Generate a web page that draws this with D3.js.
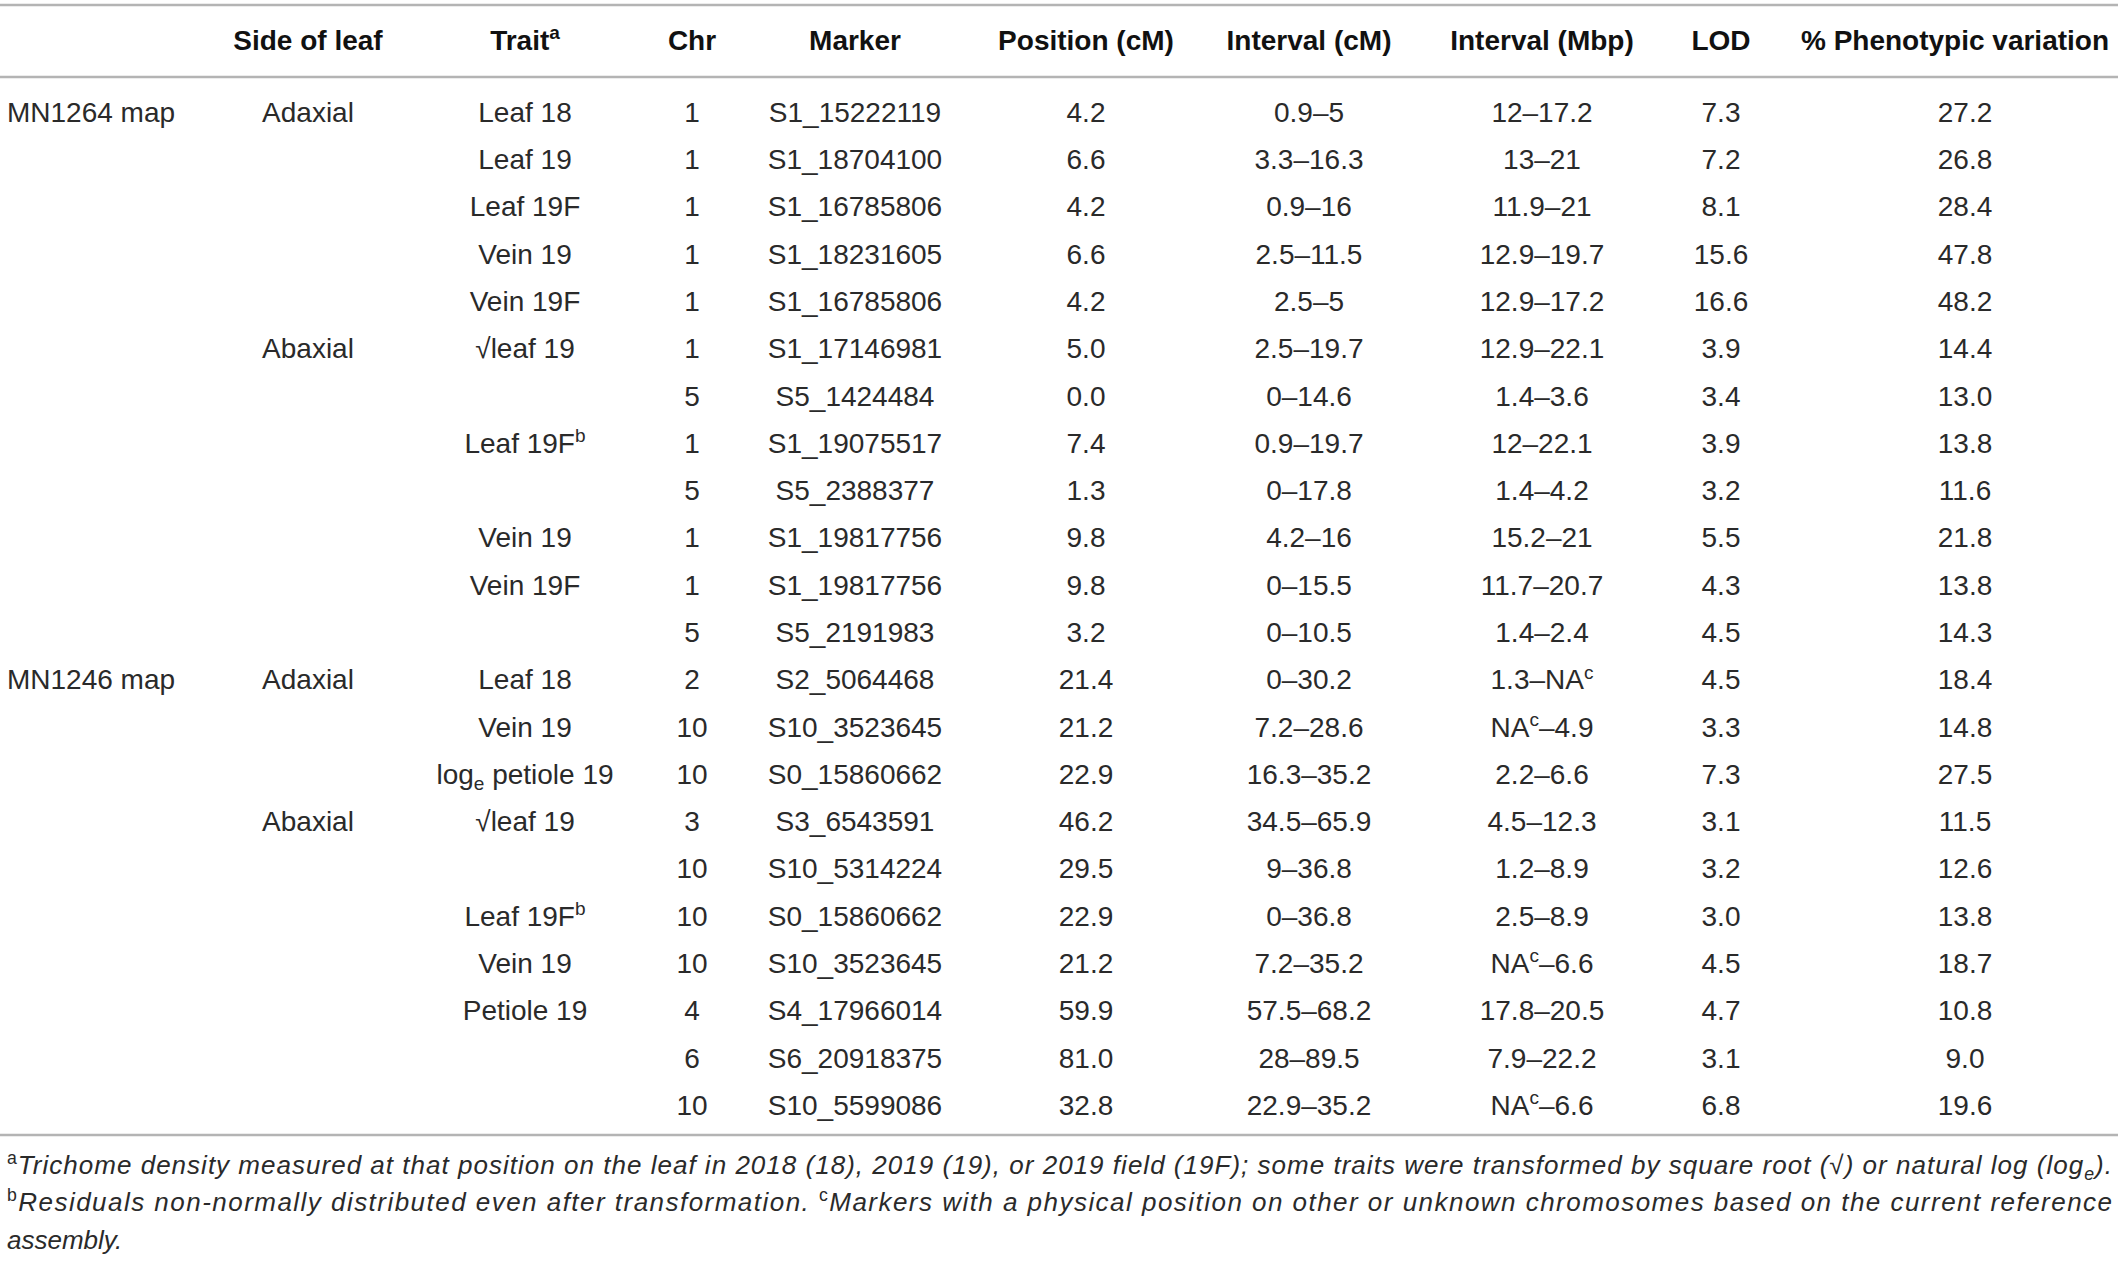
<!DOCTYPE html>
<html>
<head>
<meta charset="utf-8">
<script src="https://cdn.jsdelivr.net/npm/d3@7"></script>
<style>
  body { margin: 0; background: #fff; }
  svg { display: block; font-family: "Liberation Sans", Arial, sans-serif; }
</style>
</head>
<body>
<svg id="svg1" width="2118" height="1266"></svg>
<script>
// table data, one array per column
var headers = ["", "Side of leaf", "Trait^{a}", "Chr", "Marker", "Position (cM)", "Interval (cM)", "Interval (Mbp)", "LOD", "% Phenotypic variation"];

var maps = ["MN1264 map", "", "", "", "", "", "", "", "", "", "", "",
            "MN1246 map", "", "", "", "", "", "", "", "", ""];
var sides = ["Adaxial", "", "", "", "", "Abaxial", "", "", "", "", "", "",
             "Adaxial", "", "", "Abaxial", "", "", "", "", "", ""];
var traits = ["Leaf 18", "Leaf 19", "Leaf 19F", "Vein 19", "Vein 19F", "√leaf 19", "", "Leaf 19F^{b}", "", "Vein 19", "Vein 19F", "",
              "Leaf 18", "Vein 19", "log_{e} petiole 19", "√leaf 19", "", "Leaf 19F^{b}", "Vein 19", "Petiole 19", "", ""];
var chrs = ["1", "1", "1", "1", "1", "1", "5", "1", "5", "1", "1", "5",
            "2", "10", "10", "3", "10", "10", "10", "4", "6", "10"];
var markers = ["S1_15222119", "S1_18704100", "S1_16785806", "S1_18231605", "S1_16785806", "S1_17146981", "S5_1424484",
               "S1_19075517", "S5_2388377", "S1_19817756", "S1_19817756", "S5_2191983",
               "S2_5064468", "S10_3523645", "S0_15860662", "S3_6543591", "S10_5314224", "S0_15860662",
               "S10_3523645", "S4_17966014", "S6_20918375", "S10_5599086"];
var positions = ["4.2", "6.6", "4.2", "6.6", "4.2", "5.0", "0.0", "7.4", "1.3", "9.8", "9.8", "3.2",
                 "21.4", "21.2", "22.9", "46.2", "29.5", "22.9", "21.2", "59.9", "81.0", "32.8"];
var intervalsCM = ["0.9–5", "3.3–16.3", "0.9–16", "2.5–11.5", "2.5–5", "2.5–19.7", "0–14.6", "0.9–19.7", "0–17.8", "4.2–16", "0–15.5", "0–10.5",
                   "0–30.2", "7.2–28.6", "16.3–35.2", "34.5–65.9", "9–36.8", "0–36.8", "7.2–35.2", "57.5–68.2", "28–89.5", "22.9–35.2"];
var intervalsMbp = ["12–17.2", "13–21", "11.9–21", "12.9–19.7", "12.9–17.2", "12.9–22.1", "1.4–3.6", "12–22.1", "1.4–4.2", "15.2–21", "11.7–20.7", "1.4–2.4",
                    "1.3–NA^{c}", "NA^{c}–4.9", "2.2–6.6", "4.5–12.3", "1.2–8.9", "2.5–8.9", "NA^{c}–6.6", "17.8–20.5", "7.9–22.2", "NA^{c}–6.6"];
var lods = ["7.3", "7.2", "8.1", "15.6", "16.6", "3.9", "3.4", "3.9", "3.2", "5.5", "4.3", "4.5",
            "4.5", "3.3", "7.3", "3.1", "3.2", "3.0", "4.5", "4.7", "3.1", "6.8"];
var phenos = ["27.2", "26.8", "28.4", "47.8", "48.2", "14.4", "13.0", "13.8", "11.6", "21.8", "13.8", "14.3",
              "18.4", "14.8", "27.5", "11.5", "12.6", "13.8", "18.7", "10.8", "9.0", "19.6"];

var footnotes = [
  "^{a}Trichome density measured at that position on the leaf in 2018 (18), 2019 (19), or 2019 field (19F); some traits were transformed by square root (√) or natural log (log_{e}).",
  "^{b}Residuals non-normally distributed even after transformation. ^{c}Markers with a physical position on other or unknown chromosomes based on the current reference",
  "assembly."
];

var columns = [maps, sides, traits, chrs, markers, positions, intervalsCM, intervalsMbp, lods, phenos];

var fs = 28;
var textColor = "#2a2a2a";
var lineColor = "#b4b4b4";

var svg = d3.select('#svg1').append('g');

var colX = d3.scaleOrdinal()
    .domain(d3.range(headers.length))
    .range([7, 308, 525, 692, 855, 1086, 1309, 1542, 1721, 1955]);

// body cells of the last column sit a bit right of its header
var bodyX = d3.scaleOrdinal()
    .domain(d3.range(headers.length))
    .range([7, 308, 525, 692, 855, 1086, 1309, 1542, 1721, 1965]);

var rowY = d3.scalePoint()
    .domain(d3.range(markers.length))
    .range([112, 1105]);

// writes a string with ^{sup} and _{sub} pieces as tspans
function rich(sel, s, size, upright) {
    var parts = s.split(/(\^\{[^}]*\}|_\{[^}]*\})/).filter(function (p) { return p.length; });
    var shift = 0;
    parts.forEach(function (p) {
        var t = p, dy = 0, sup = false;
        if (p[0] === '^' && p[1] === '{') { t = p.slice(2, -1); dy = -0.38 * size; sup = true; }
        else if (p[0] === '_' && p[1] === '{') { t = p.slice(2, -1); dy = 0.22 * size; }
        var ts = sel.append('tspan')
            .attr('font-size', dy ? size * 0.68 : size)
            .text(t);
        if (dy - shift !== 0) ts.attr('dy', dy - shift);
        if (sup && upright) ts.attr('font-style', 'normal');
        shift = dy;
    });
}

// rules
[5, 77, 1135].forEach(function (y) {
    svg.append('line')
        .attr('x1', 0).attr('x2', 2118)
        .attr('y1', y).attr('y2', y)
        .attr('stroke', lineColor)
        .attr('stroke-width', 2.5);
});

// header
svg.selectAll('text.head')
    .data(headers)
    .enter()
    .append('text')
    .attr('class', 'head')
    .attr('x', function (d, i) { return colX(i); })
    .attr('y', 40 + 0.35 * fs)
    .attr('text-anchor', function (d, i) { return i === 0 ? 'start' : 'middle'; })
    .attr('font-weight', 'bold')
    .attr('font-size', fs)
    .attr('fill', '#111')
    .each(function (d) { rich(d3.select(this), d, fs); });

// body cells
columns.forEach(function (col, ci) {
    svg.append('g')
        .selectAll('text')
        .data(col)
        .enter()
        .append('text')
        .attr('x', bodyX(ci))
        .attr('y', function (d, ri) { return rowY(ri) + 0.35 * fs; })
        .attr('text-anchor', ci === 0 ? 'start' : 'middle')
        .attr('font-size', fs)
        .attr('fill', textColor)
        .each(function (d) { rich(d3.select(this), d, fs); });
});

// footnotes
var noteFs = 26;
var noteY = [1165, 1202, 1240];
svg.selectAll('text.note')
    .data(footnotes)
    .enter()
    .append('text')
    .attr('class', 'note')
    .attr('x', 7)
    .attr('y', function (d, i) { return noteY[i] + 0.35 * noteFs; })
    .attr('font-style', 'italic')
    .attr('font-size', noteFs)
    .attr('fill', textColor)
    .each(function (d, i) {
        var t = d3.select(this);
        rich(t, d, noteFs, true);
        if (i < 2) t.attr('textLength', 2105).attr('lengthAdjust', 'spacing');
    });
</script>
</body>
</html>
